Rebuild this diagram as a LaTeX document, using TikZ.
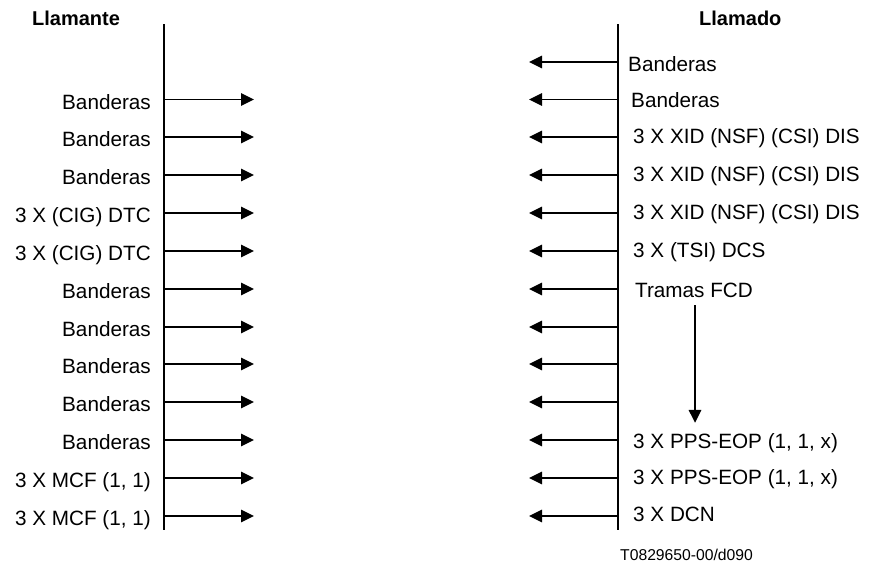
\documentclass[tikz,border=0pt]{standalone}
\usepackage{fontspec}
\setmainfont{Liberation Sans}
\usepackage{tikz}
\usetikzlibrary{arrows.meta,calc}

\tikzset{
  flecha/.style={-{Triangle[length=13pt,width=12.5pt]},line width=1.7pt},
  etiq/.style={font=\fontsize{20.7}{24}\selectfont,inner sep=0pt},
  titulo/.style={font=\fontsize{20}{24}\selectfont\bfseries,inner sep=0pt},
}

\begin{document}
\begin{tikzpicture}[x=1pt,y=-1pt]
  \useasboundingbox (0,0) rectangle (871,568);
  % lineas de tiempo
  \coordinate (Larr) at (164,24);
  \coordinate (Laba) at (164,530);
  \coordinate (Rarr) at (618,24);
  \coordinate (Raba) at (618,530);
  \draw[line width=2.1pt] (Larr) -- (Laba);
  \draw[line width=2.1pt] (Rarr) -- (Raba);
  \node[titulo,anchor=base west] (llamante) at (32,25) {Llamante};
  \node[titulo,anchor=base west] (llamado) at (699,25) {Llamado};
  % llamante -> llamado
  \foreach \i/\yy/\txt in {2/99.5/Banderas,3/137/Banderas,4/175/Banderas,
      5/213/{3 X (CIG) DTC},6/251/{3 X (CIG) DTC},7/289/Banderas,
      8/327/Banderas,9/364/Banderas,10/402/Banderas,11/440/Banderas,
      12/478/{3 X MCF (1, 1)},13/516/{3 X MCF (1, 1)}} {
    \coordinate (l\i) at (164,\yy);
    \coordinate (lf\i) at (254,\yy);
    \draw[flecha] (l\i) -- (lf\i);
    \node[etiq,anchor=base east] (lt\i) at (151,\yy+9.5) {\txt};
  }
  % llamado -> llamante
  \foreach \i/\yy in {1/62,2/99.5,3/137,4/175,5/213,6/251,7/289,8/327,
      9/364,10/402,11/440,12/478,13/516} {
    \coordinate (r\i) at (618,\yy);
    \coordinate (rf\i) at (529,\yy);
    \draw[flecha] (r\i) -- (rf\i);
  }
  \node[etiq,anchor=base west] (rt1) at (628,71) {Banderas};
  \node[etiq,anchor=base west] (rt2) at (631,107) {Banderas};
  \node[etiq,anchor=base west] (rt3) at (633,143) {3 X XID (NSF) (CSI) DIS};
  \node[etiq,anchor=base west] (rt4) at (633,181) {3 X XID (NSF) (CSI) DIS};
  \node[etiq,anchor=base west] (rt5) at (633,219) {3 X XID (NSF) (CSI) DIS};
  \node[etiq,anchor=base west] (rt6) at (633,257) {3 X (TSI) DCS};
  \node[etiq,anchor=base west] (fcd) at (635,297) {Tramas FCD};
  \node[etiq,anchor=base west] (pps1) at (633,448) {3 X PPS-EOP (1, 1, x)};
  \node[etiq,anchor=base west] (pps2) at (633,484) {3 X PPS-EOP (1, 1, x)};
  \node[etiq,anchor=base west] (dcn) at (633,521) {3 X DCN};
  % tramas
  \coordinate (eje) at (695,0);
  \draw[flecha] ($(fcd.south -| eje)+(0,8)$) -- ($(pps1.north -| eje)+(0,-10)$);
  \node[font=\fontsize{15.7}{18}\selectfont,inner sep=0pt,anchor=base west] (ref) at (620,560) {T0829650-00/d090};
\end{tikzpicture}
\end{document}
